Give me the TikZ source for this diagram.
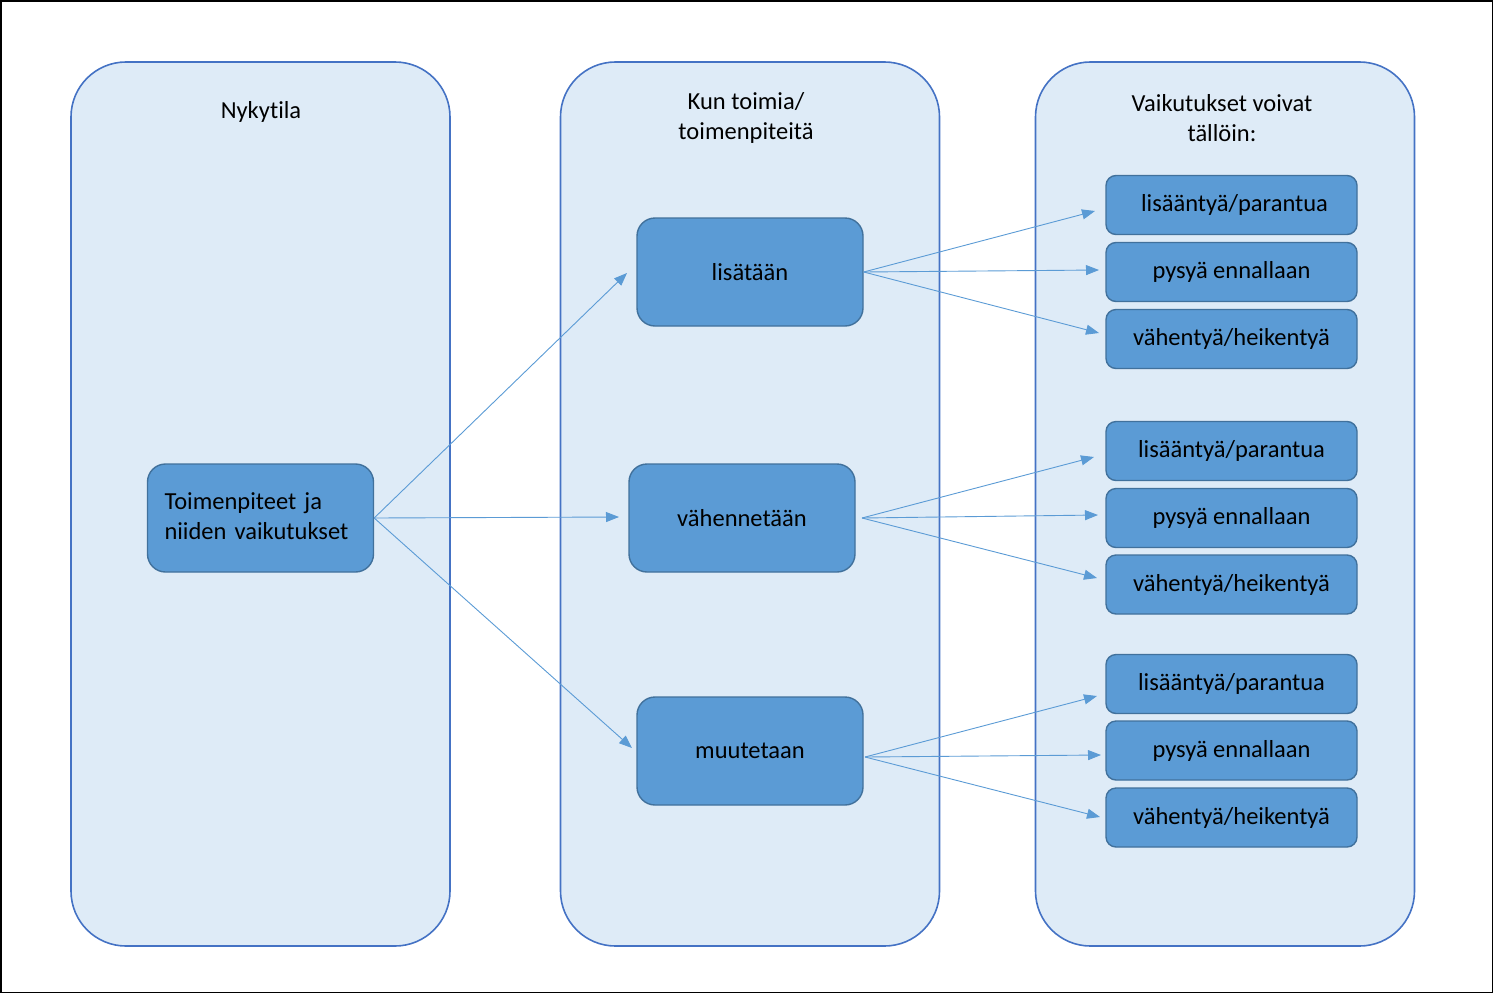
\documentclass[tikz,border=0pt]{standalone}
\usepackage{fontspec}
\setmainfont{Carlito}[Ligatures=NoCommon, RawFeature={-liga;-clig;-dlig}]
\usetikzlibrary{arrows.meta}
\definecolor{panelfill}{HTML}{DEEBF7}
\definecolor{paneldraw}{HTML}{4472C4}
\definecolor{boxfill}{HTML}{5B9BD5}
\definecolor{boxdraw}{HTML}{41719C}
\definecolor{arrowcol}{HTML}{5B9BD5}
\tikzset{
  panel/.style={draw=paneldraw, fill=panelfill, line width=1.6bp, rounded corners=55bp, minimum width=379bp, minimum height=884bp, inner sep=0pt},
  bigbox/.style={draw=boxdraw, fill=boxfill, line width=1.4bp, rounded corners=18bp, minimum width=226bp, minimum height=108bp, inner sep=0pt, font=\fontsize{24.5bp}{30bp}\selectfont},
  smallbox/.style={draw=boxdraw, fill=boxfill, line width=1.4bp, rounded corners=10bp, minimum width=251bp, minimum height=59bp, inner sep=0pt, font=\fontsize{24.5bp}{30bp}\selectfont},
  title/.style={align=center, font=\fontsize{24.5bp}{30bp}\selectfont, inner sep=0pt},
  conn/.style={draw=arrowcol, line width=0.9bp, -{Triangle[length=13bp,width=10bp]}}
}
\begin{document}
\begin{tikzpicture}[x=1bp,y=-1bp]
\useasboundingbox (0,0) rectangle (1493,993);
\draw[black, line width=1.5bp] (0.75,0.75) rectangle (1492.25,992.25);
% panels
\node[panel] (p1) at (260.5,504) {};
\node[panel] (p2) at (750,504) {};
\node[panel] (p3) at (1225,504) {};
\node[title] (t1) at (261,112) {Nykytila};
\node[title] (t2) at (746,118) {Kun toimia/\\toimenpiteitä};
\node[title] (t3) at (1222,118) {Vaikutukset voivat\\tällöin:};
% main boxes
\node[bigbox, align=left, text width=192bp] (src) at (260.5,518) {Toimenpiteet ja\\niiden vaikutukset\vspace{3bp}};
\node[bigbox] (a) at (750,272) {lisätään};
\node[bigbox] (b) at (742,518) {vähennetään};
\node[bigbox] (c) at (750,751) {muutetaan};
% target points
\coordinate (sa) at (627,273);
\coordinate (sb) at (619,517);
\coordinate (sc) at (632,748);
\draw[conn] (src.east) -- (sa);
\draw[conn] (src.east) -- (sb);
\draw[conn] (src.east) -- (sc);
% right boxes
\node[smallbox] (a1) at (1231.5,205) {\hspace{6bp}lisääntyä/parantua};
\node[smallbox] (a2) at (1231.5,272) {pysyä ennallaan};
\node[smallbox] (a3) at (1231.5,339) {vähentyä/heikentyä};
\node[smallbox] (b1) at (1231.5,451) {lisääntyä/parantua};
\node[smallbox] (b2) at (1231.5,518) {pysyä ennallaan};
\node[smallbox] (b3) at (1231.5,584.5) {vähentyä/heikentyä};
\node[smallbox] (c1) at (1231.5,684) {lisääntyä/parantua};
\node[smallbox] (c2) at (1231.5,750.5) {pysyä ennallaan};
\node[smallbox] (c3) at (1231.5,817.5) {vähentyä/heikentyä};
% arrow end coordinates
\coordinate (ea1) at (1095,211);
\coordinate (ea2) at (1099,270);
\coordinate (ea3) at (1099,333);
\coordinate (eb1) at (1094,457);
\coordinate (eb2) at (1098,515);
\coordinate (eb3) at (1097,578);
\coordinate (ec1) at (1097,696);
\coordinate (ec2) at (1101,755);
\coordinate (ec3) at (1100,817);
\draw[conn] (a.east) -- (ea1);
\draw[conn] (a.east) -- (ea2);
\draw[conn] (a.east) -- (ea3);
\coordinate (bo) at (862,518);
\draw[conn] (bo) -- (eb1);
\draw[conn] (bo) -- (eb2);
\draw[conn] (bo) -- (eb3);
\coordinate (co) at (865,757);
\draw[conn] (co) -- (ec1);
\draw[conn] (co) -- (ec2);
\draw[conn] (co) -- (ec3);
\end{tikzpicture}
\end{document}
